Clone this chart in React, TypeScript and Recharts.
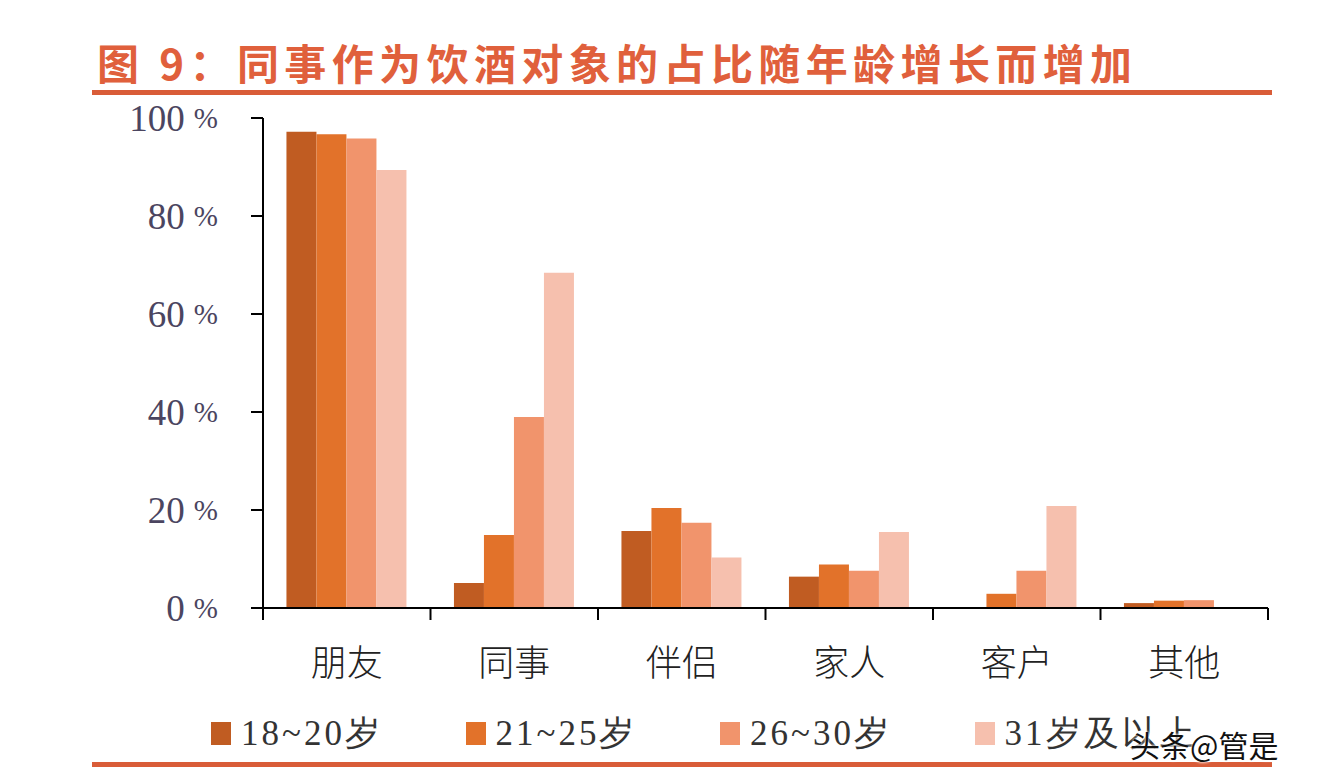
import React from 'react';
import { BarChart, Bar, XAxis, YAxis } from 'recharts';

const categories = ['朋友', '同事', '伴侣', '家人', '客户', '其他'];
const age18to20 = [97.2, 5.1, 15.7, 6.4, 0, 1.0];
const age21to25 = [96.7, 14.9, 20.4, 8.9, 2.9, 1.5];
const age26to30 = [95.8, 39.0, 17.4, 7.6, 7.6, 1.6];
const age31plus = [89.4, 68.4, 10.3, 15.5, 20.8, 0];
const seriesNames = ['18~20岁', '21~25岁', '26~30岁', '31岁及以上'];
const seriesKeys = ['a', 'b', 'c', 'd'];
const seriesColors = ['#c05c22', '#e2722a', '#f1946c', '#f6c0ae'];
const yTicks = [0, 20, 40, 60, 80, 100];

const titleText = '图 9：同事作为饮酒对象的占比随年龄增长而增加';
const watermark = '头条@管是';

const data = categories.map((name, i) => ({
  name,
  a: age18to20[i],
  b: age21to25[i],
  c: age26to30[i],
  d: age31plus[i],
}));

const W = 1326;
const H = 780;
const X_AXIS_H = 172;
const M = { top: 118, right: 58, bottom: 0, left: 113 };
const Y_AXIS_W = 150;
const plotW = W - M.left - Y_AXIS_W - M.right;
const band = plotW / categories.length;

const YTick = (props: any) => {
  const { x, y, payload } = props;
  return (
    <text x={x} y={y} textAnchor="end" dominantBaseline="central" fill="#4b4560" fontFamily="'Liberation Serif', serif">
      <tspan fontSize={37}>{payload.value}</tspan>
      <tspan fontSize={29} dx={9}>%</tspan>
    </text>
  );
};

const XTick = (props: any) => {
  const { x, y, payload, index } = props;
  const left = x - band / 2;
  const right = x + band / 2;
  return (
    <g>
      <line x1={left} x2={left} y1={y} y2={y + 12} stroke="#000" strokeWidth={2} />
      {index === categories.length - 1 && (
        <line x1={right} x2={right} y1={y} y2={y + 12} stroke="#000" strokeWidth={2} />
      )}
      <text x={x} y={y + 52} textAnchor="middle" dominantBaseline="central" fontSize={36} fontWeight={300} fill="#222" fontFamily="'Noto Sans CJK SC', sans-serif">
        {payload.value}
      </text>
    </g>
  );
};

const LegendBlock = () => (
  <div style={{ position: 'absolute', left: 0, top: 713, width: W, height: 40 }}>
    {seriesNames.map((n, i) => (
      <div key={n} style={{ position: 'absolute', left: 211 + i * 254.5, top: 0, display: 'flex', alignItems: 'center', height: 40 }}>
        <div style={{ width: 20, height: 23, background: seriesColors[i], marginRight: 10 }} />
        <span style={{ fontFamily: "'Liberation Serif', serif", fontSize: 35, color: '#333', letterSpacing: 3 }}>{n}</span>
      </div>
    ))}
  </div>
);

export default function App() {
  return (
    <div style={{ position: 'absolute', left: 0, top: 0, width: W, height: H, background: '#fff', overflow: 'hidden' }}>
      <div style={{ position: 'absolute', left: 97, top: 36, fontFamily: "'Noto Sans CJK SC', sans-serif", fontWeight: 700, fontSize: 42, letterSpacing: 5.4, color: '#e0603c', whiteSpace: 'nowrap', lineHeight: '52px' }}>
        {titleText}
      </div>
      <div style={{ position: 'absolute', left: 92, top: 90, width: 1180, height: 5, background: '#d95c38' }} />
      <BarChart width={W} height={H} data={data} margin={M} barCategoryGap="14%" barGap={0}>
        <YAxis
          type="number"
          domain={[0, 100]}
          ticks={yTicks}
          width={Y_AXIS_W}
          axisLine={{ stroke: '#000', strokeWidth: 2 }}
          tickLine={{ stroke: '#000', strokeWidth: 2 }}
          tickSize={12}
          tickMargin={33}
          tick={<YTick />}
          interval={0}
        />
        <XAxis
          dataKey="name"
          axisLine={{ stroke: '#000', strokeWidth: 2 }}
          tickLine={false}
          tickSize={0}
          tickMargin={0}
          tick={<XTick />}
          interval={0}
          height={X_AXIS_H}
        />
        {seriesKeys.map((k, i) => (
          <Bar key={k} dataKey={k} name={seriesNames[i]} fill={seriesColors[i]} isAnimationActive={false} />
        ))}
      </BarChart>
      <LegendBlock />
      <div style={{ position: 'absolute', left: 92, top: 762, width: 1180, height: 5, background: '#d95c38' }} />
      <div style={{ position: 'absolute', left: 1130, top: 722, fontFamily: "'Noto Sans CJK SC', sans-serif", fontSize: 30, color: '#111', textShadow: '0 0 3px #fff, 0 0 3px #fff', whiteSpace: 'nowrap' }}>
        {watermark}
      </div>
    </div>
  );
}
